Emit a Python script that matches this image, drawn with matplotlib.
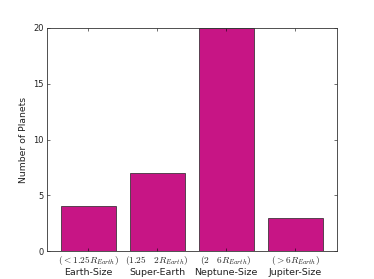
import matplotlib
matplotlib.use("Agg")
import matplotlib.pyplot as plt
import numpy as np

plt.rcParams['mathtext.fontset'] = 'cm'

categories = ["Earth-Size", "Super-Earth", "Neptune-Size", "Jupiter-Size"]
ranges = [r"$(<1.25R_{Earth})$", r"$(1.25\quad2R_{Earth})$", r"$(2\quad6R_{Earth})$", r"$(>6R_{Earth})$"]
counts = [4, 7, 20, 3]
yticks = [0, 5, 10, 15, 20]

fig = plt.figure(figsize=(3.74, 2.79), dpi=100)
ax = fig.add_axes([0.125, 0.1, 0.775, 0.8])
x = np.arange(len(categories))
ax.bar(x, counts, width=0.8, color='#C71585', edgecolor='#222222', linewidth=0.5)
ax.set_xlim(-0.6, 3.6)
ax.set_ylim(0, 20)
ax.set_yticks(yticks)
ax.set_xticks(x)
ax.set_xticklabels([f"{r}\n{c}" for r, c in zip(ranges, categories)], fontsize=6.8, color='#222222')
ax.tick_params(axis='y', labelsize=6.0, labelcolor='#222222')
ax.tick_params(direction='in', top=True, right=True, length=2.2, width=0.4, pad=2)
for s in ax.spines.values():
    s.set_linewidth(0.6)
    s.set_color('#333333')
ax.set_ylabel("Number of Planets", fontsize=6.7, color='#222222')
fig.savefig("out.png", dpi=100)
